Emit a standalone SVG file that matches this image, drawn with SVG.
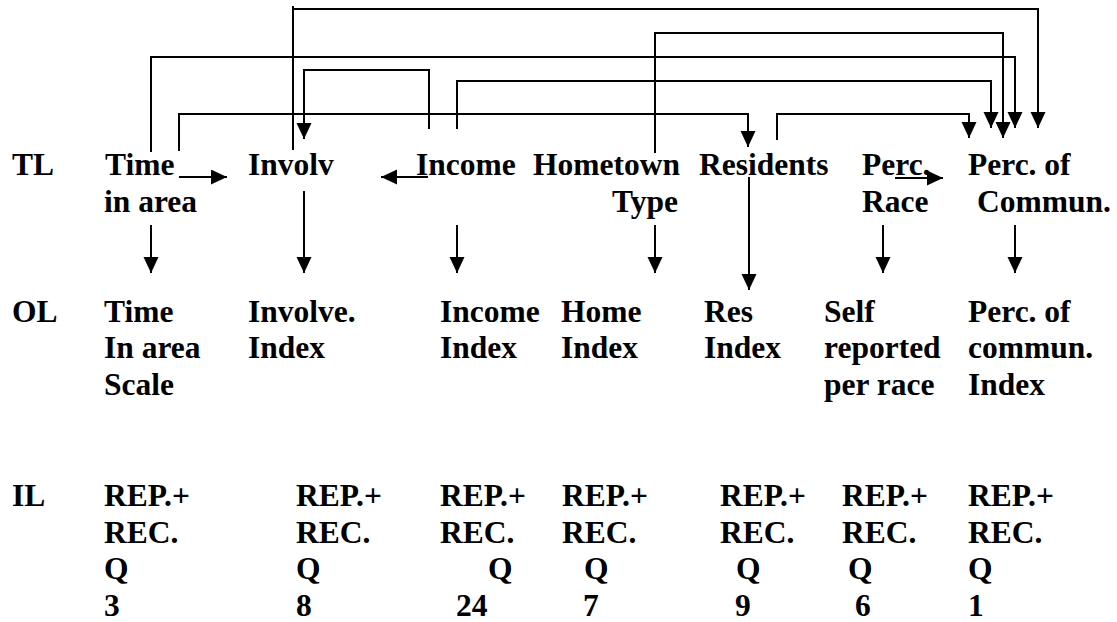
<svg xmlns="http://www.w3.org/2000/svg" width="1117" height="622" viewBox="0 0 1117 622">
<style>
text{font-family:"Liberation Serif","Times New Roman",serif;font-weight:bold;font-size:31.5px;fill:#000}
.c{fill:none;stroke:#000;stroke-width:2;marker-end:url(#ah)}
</style>
<defs>
<marker id="ah" markerUnits="userSpaceOnUse" markerWidth="18" markerHeight="18" refX="16" refY="7.5" orient="auto">
<path d="M0,0 L16,7.5 L0,15 Z" fill="#000"/>
</marker>
</defs>
<rect width="1117" height="622" fill="#fff"/>
<g id="connectors">
<path class="c" d="M293,150 V6 M293,9 H1038 V128"/>
<path class="c" d="M655,153 V33 H1003 V138"/>
<path class="c" d="M151,152 V57 H1015 V128"/>
<path class="c" d="M457,129 V81 H991 V128"/>
<path class="c" d="M777,140 V114 H969 V138"/>
<path class="c" d="M179,151 V114 H748 V147"/>
<path class="c" d="M429,129 V70 H304 V139"/>
<path class="c" d="M179,177 H227"/>
<path class="c" d="M428,177 H381"/>
<path class="c" d="M895,178 H943"/>
<path class="c" d="M151,225 V273"/>
<path class="c" d="M304,191 V273"/>
<path class="c" d="M457,225 V273"/>
<path class="c" d="M655,225 V273"/>
<path class="c" d="M749,177 V290"/>
<path class="c" d="M883,225 V273"/>
<path class="c" d="M1015,225 V273"/>
</g>
<g id="labels">
<text x="12" y="175">TL</text>
<text x="12" y="322">OL</text>
<text x="12" y="506">IL</text>
</g>
<g id="tl-time"><text x="105" y="175">Time</text><text x="104" y="212">in area</text></g>
<g id="tl-involv"><text x="248" y="175">Involv</text></g>
<g id="tl-income"><text x="416" y="175">Income</text></g>
<g id="tl-hometown"><text x="533" y="175">Hometown</text><text x="612" y="212">Type</text></g>
<g id="tl-residents"><text x="699" y="175">Residents</text></g>
<g id="tl-percrace"><text x="862" y="175">Perc.</text><text x="862" y="212">Race</text></g>
<g id="tl-perccommun"><text x="968" y="175">Perc. of</text><text x="977" y="212">Commun.</text></g>
<g id="ol-time"><text x="104" y="322">Time</text><text x="104" y="358">In area</text><text x="104" y="395">Scale</text></g>
<g id="ol-involve"><text x="248" y="322">Involve.</text><text x="248" y="358">Index</text></g>
<g id="ol-income"><text x="440" y="322">Income</text><text x="440" y="358">Index</text></g>
<g id="ol-home"><text x="561" y="322">Home</text><text x="561" y="358">Index</text></g>
<g id="ol-res"><text x="704" y="322">Res</text><text x="704" y="358">Index</text></g>
<g id="ol-self"><text x="824" y="322">Self</text><text x="824" y="358">reported</text><text x="824" y="395">per race</text></g>
<g id="ol-perc"><text x="968" y="322">Perc. of</text><text x="968" y="358">commun.</text><text x="968" y="395">Index</text></g>
<g id="il-1"><text x="104" y="506">REP.+</text><text x="104" y="543">REC.</text><text x="104" y="579">Q</text><text x="104" y="616">3</text></g>
<g id="il-2"><text x="296" y="506">REP.+</text><text x="296" y="543">REC.</text><text x="296" y="579">Q</text><text x="296" y="616">8</text></g>
<g id="il-3"><text x="440" y="506">REP.+</text><text x="440" y="543">REC.</text><text x="488" y="579">Q</text><text x="456" y="616">24</text></g>
<g id="il-4"><text x="562" y="506">REP.+</text><text x="562" y="543">REC.</text><text x="584" y="579">Q</text><text x="583" y="616">7</text></g>
<g id="il-5"><text x="720" y="506">REP.+</text><text x="720" y="543">REC.</text><text x="736" y="579">Q</text><text x="735" y="616">9</text></g>
<g id="il-6"><text x="842" y="506">REP.+</text><text x="842" y="543">REC.</text><text x="848" y="579">Q</text><text x="855" y="616">6</text></g>
<g id="il-7"><text x="968" y="506">REP.+</text><text x="968" y="543">REC.</text><text x="968" y="579">Q</text><text x="968" y="616">1</text></g>
</svg>
